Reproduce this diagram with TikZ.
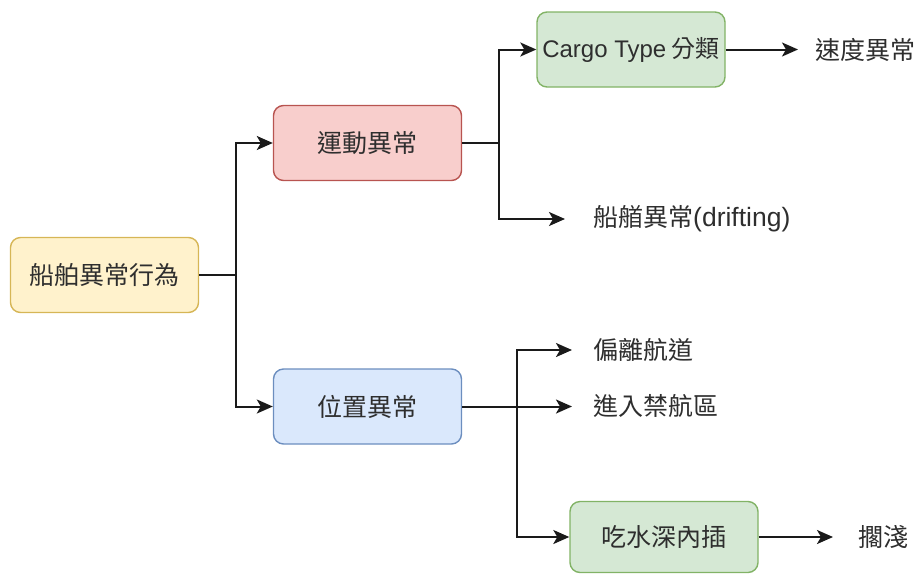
\documentclass[tikz,border=0pt]{standalone}
\usepackage{fontspec}
\setmainfont{Liberation Sans}
\newfontfamily\cjk{Noto Sans CJK TC}
\usetikzlibrary{arrows.meta}
\definecolor{yfill}{HTML}{FFF2CC}\definecolor{ydraw}{HTML}{D6B656}
\definecolor{rfill}{HTML}{F8CECC}\definecolor{rdraw}{HTML}{B85450}
\definecolor{bfill}{HTML}{DAE8FC}\definecolor{bdraw}{HTML}{6C8EBF}
\definecolor{gfill}{HTML}{D5E8D4}\definecolor{gdraw}{HTML}{82B366}
\definecolor{txt}{HTML}{2E2E2E}
\definecolor{ln}{HTML}{1A1A1A}
\begin{document}
\begin{tikzpicture}[x=1pt,y=-1pt,
  box/.style={draw, rounded corners=10pt, line width=1.4pt, minimum width=188pt, minimum height=75pt, inner sep=0pt, text=txt, font=\fontsize{25}{30}\selectfont\cjk},
  lbl/.style={inner sep=0pt, anchor=west, text=txt, font=\fontsize{25}{30}\selectfont\cjk},
  conn/.style={line width=2pt, draw=ln},
  arr/.style={conn, -{Stealth[length=16pt,width=14pt,inset=4pt]}}
]
\useasboundingbox (0,0) rectangle (920,574);
\node[box, fill=yfill, draw=ydraw] (root) at (104.5,275) {船舶異常行為};
\node[box, fill=rfill, draw=rdraw] (mov) at (367.5,143) {運動異常};
\node[box, fill=bfill, draw=bdraw] (pos) at (367.5,406.5) {位置異常};
\node[box, fill=gfill, draw=gdraw, font=\fontsize{24}{28}\selectfont\cjk] (cargo) at (631,49.5) {{\rmfamily Cargo Type} 分類};
\node[box, fill=gfill, draw=gdraw, minimum height=71pt] (draft) at (664,537) {吃水深內插};
\node[lbl] (speed) at (815,49.5) {速度異常};
\node[lbl] (drift) at (593,219) {船艏異常{\rmfamily\fontsize{26.5}{30}\selectfont (drifting)}};
\node[lbl] (dev) at (593,350) {偏離航道};
\node[lbl] (enter) at (593,406.5) {進入禁航區};
\node[lbl] (ground) at (858,537) {擱淺};
\coordinate (j1) at (236,275);
\coordinate (j2) at (499,143);
\coordinate (j3) at (517,406.5);
\draw[conn] (root.east) -- (j1);
\draw[arr] (j1) |- (mov.west);
\draw[arr] (j1) |- (pos.west);
\draw[conn] (mov.east) -- (j2);
\draw[arr] (j2) |- (cargo.west);
\draw[arr] (j2) |- ([xshift=-28pt]drift.west);
\draw[arr] (pos.east) -- ([xshift=-21pt]enter.west);
\draw[arr] (j3) |- ([xshift=-21pt]dev.west);
\draw[arr] (j3) |- (draft.west);
\draw[arr] (cargo.east) -- ([xshift=-17pt]speed.west);
\draw[arr] (draft.east) -- ([xshift=-25pt]ground.west);
\end{tikzpicture}
\end{document}
